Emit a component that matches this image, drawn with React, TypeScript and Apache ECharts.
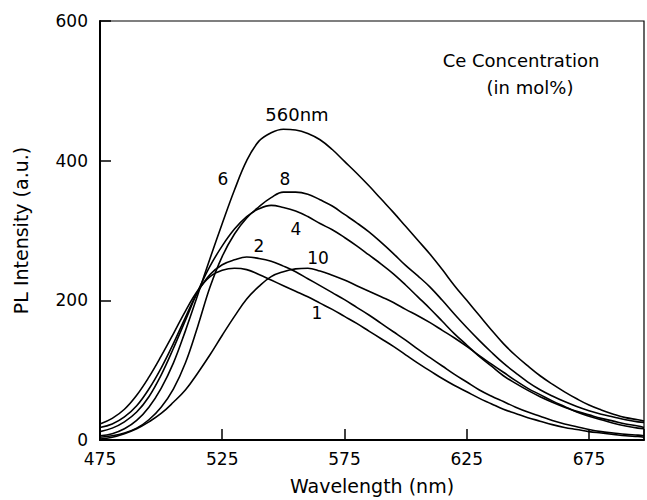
import React, { useEffect, useRef } from 'react';
import * as echarts from 'echarts';

const wavelengths = [475, 480, 485, 490, 495, 500, 505, 510, 515, 520, 525, 530, 535, 540, 545, 550, 555, 560, 565, 570, 575, 580, 585, 590, 595, 600, 605, 610, 615, 620, 625, 630, 635, 640, 645, 650, 655, 660, 665, 670, 675, 680, 685, 690, 695, 697.5];

const ce1 = [23, 31, 44, 64, 90, 120, 152, 185, 214, 234, 243, 246, 244, 237, 229, 221, 213, 205, 196, 187, 177, 167, 156, 145, 134, 122, 110, 99, 88, 78, 69, 60, 52, 44, 38, 32, 27, 22, 18, 15, 12, 10, 8, 6, 5, 4];
const ce2 = [18, 23, 33, 49, 73, 103, 138, 176, 212, 237, 251, 258, 262, 260, 256, 249, 241, 231, 221, 211, 201, 190, 179, 167, 155, 143, 130, 118, 106, 94, 83, 72, 63, 55, 47, 40, 34, 28, 23, 19, 15, 12, 10, 8, 7, 6];
const ce4 = [12, 17, 26, 40, 62, 93, 131, 172, 213, 249, 278, 302, 320, 331, 336, 333, 328, 320, 310, 301, 290, 278, 265, 252, 238, 222, 205, 188, 170, 152, 136, 120, 106, 92, 81, 71, 62, 54, 47, 41, 36, 31, 27, 23, 20, 18];
const ce6 = [6, 9, 16, 28, 47, 74, 110, 157, 208, 260, 310, 358, 400, 428, 440, 445, 444, 439, 430, 416, 399, 382, 364, 345, 326, 306, 286, 266, 244, 221, 200, 179, 158, 138, 121, 106, 92, 80, 69, 59, 50, 43, 37, 32, 29, 27];
const ce8 = [4, 6, 10, 17, 29, 47, 73, 111, 163, 219, 263, 295, 318, 334, 347, 355, 355, 352, 344, 335, 323, 311, 298, 283, 267, 250, 235, 219, 200, 180, 161, 143, 126, 110, 96, 83, 72, 63, 55, 48, 42, 37, 33, 29, 26, 25];
const ce10 = [1.5, 4, 9, 16, 26, 38, 54, 72, 96, 122, 150, 177, 202, 220, 234, 241, 245, 246, 242, 236, 229, 221, 213, 205, 197, 187, 178, 168, 157, 146, 134, 121, 109, 97, 85, 74, 65, 56, 48, 40, 34, 29, 24, 20, 17, 16];

const seriesNames = ['1', '2', '4', '6', '8', '10'];
const seriesValues = [ce1, ce2, ce4, ce6, ce8, ce10];

const xTickLabels = [475, 525, 575, 625, 675];
const yTickLabels = [0, 200, 400, 600];

const FONT = 'DejaVu Sans';

export default function App() {
  const ref = useRef<HTMLDivElement>(null);
  useEffect(() => {
    const chart = echarts.init(ref.current as HTMLDivElement, null, { renderer: 'svg' });
    const series = seriesValues.map((vals, k) => ({
      type: 'line',
      name: seriesNames[k],
      data: wavelengths.map((w, i) => [w, vals[i]]),
      smooth: 0.4,
      showSymbol: false,
      silent: true,
      lineStyle: { color: '#000', width: 1.6 },
      z: 3,
    }));
    const txt = (text: string, x: number, y: number, size = 17) => ({
      type: 'text',
      x,
      y,
      silent: true,
      style: {
        text,
        fontSize: size,
        fontFamily: FONT,
        fill: '#000',
        align: 'center',
        verticalAlign: 'middle',
      },
    });
    chart.setOption({
      animation: false,
      backgroundColor: '#fff',
      grid: {
        left: 100,
        top: 21,
        right: 2,
        bottom: 59,
        show: true,
        borderColor: '#000',
        borderWidth: 1.2,
        backgroundColor: 'transparent',
      },
      xAxis: {
        type: 'value',
        min: 475,
        max: 697.5,
        interval: 50,
        name: 'Wavelength (nm)',
        nameLocation: 'middle',
        nameGap: 36,
        nameTextStyle: { fontFamily: FONT, fontSize: 19, color: '#000' },
        axisLine: { show: true, lineStyle: { color: '#000', width: 2 } },
        axisTick: { show: true, inside: true, length: 11, lineStyle: { color: '#000', width: 1.5 } },
        axisLabel: {
          margin: 10,
          fontFamily: FONT,
          fontSize: 17,
          color: '#000',
          formatter: (v: number) => (xTickLabels.indexOf(v) >= 0 ? String(v) : ''),
        },
        splitLine: { show: false },
      },
      yAxis: {
        type: 'value',
        min: 0,
        max: 600,
        interval: 200,
        name: 'PL Intensity (a.u.)',
        nameLocation: 'middle',
        nameGap: 70,
        nameTextStyle: { fontFamily: FONT, fontSize: 19, color: '#000' },
        axisLine: { show: true, lineStyle: { color: '#000', width: 2 } },
        axisTick: { show: true, inside: true, length: 11, lineStyle: { color: '#000', width: 1.5 } },
        axisLabel: {
          margin: 12,
          fontFamily: FONT,
          fontSize: 17,
          color: '#000',
          formatter: (v: number) => (yTickLabels.indexOf(v) >= 0 ? String(v) : ''),
        },
        splitLine: { show: false },
      },
      graphic: [
        txt('Ce Concentration', 521, 60, 18),
        txt('(in mol%)', 530, 87, 18),
        txt('560nm', 297, 114, 18),
        txt('6', 223, 179),
        txt('8', 285, 179),
        txt('4', 296, 229),
        txt('2', 259, 246),
        txt('10', 318, 258),
        txt('1', 317, 313),
      ],
      series,
    });
    return () => chart.dispose();
  }, []);
  return <div ref={ref} style={{ position: 'fixed', left: 0, top: 0, width: 647, height: 500 }} />;
}
